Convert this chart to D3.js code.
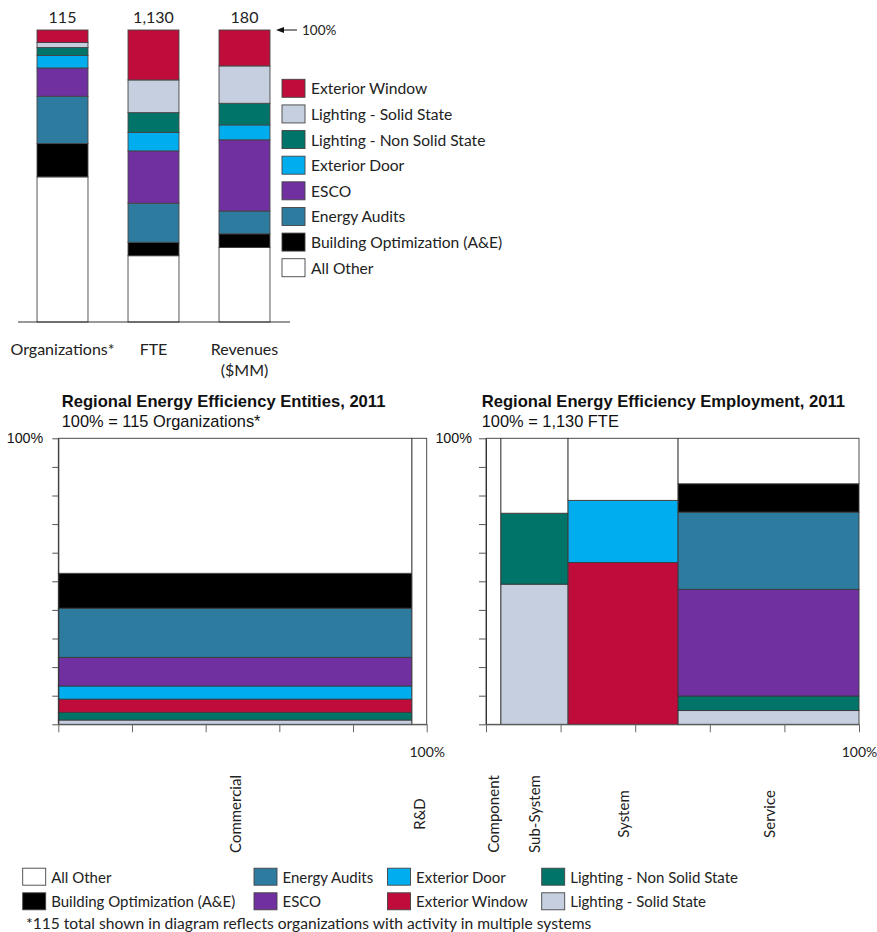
<!DOCTYPE html>
<html>
<head>
<meta charset="utf-8">
<script src="https://cdn.jsdelivr.net/npm/d3@7"></script>
<style>
  html, body { margin: 0; padding: 0; background: #fff; }
  svg { display: block; }
  .cal { font-family: Lato, "Open Sans", sans-serif; fill: #222; }
  .ari { font-family: "Liberation Sans", Arial, sans-serif; fill: #111; }
</style>
</head>
<body>
<svg id="chart" width="877" height="932"></svg>
<script>
// ---- Segments (stack order, bottom to top, for the summary bars) ----
const segments = [
  "All Other",
  "Building Optimization (A&E)",
  "Energy Audits",
  "ESCO",
  "Exterior Door",
  "Lighting - Non Solid State",
  "Lighting - Solid State",
  "Exterior Window"
];
const segmentColors = ["#ffffff", "#000000", "#2e7ba0", "#7030a0", "#00aeef", "#007468", "#c5cfe0", "#c00c3b"];

// ---- Summary bars: share of each metric (%) per segment, in segment order ----
const metrics = ["Organizations*", "FTE", "Revenues ($MM)"];
const metricTotals = ["115", "1,130", "180"];
const orgShares = [49.7, 11.4, 16.2, 9.7, 4.3, 2.7, 1.7, 4.3];
const fteShares = [22.7, 4.6, 13.4, 17.9, 6.3, 6.8, 11.2, 17.1];
const revShares = [25.5, 4.7, 7.8, 24.4, 5.1, 7.4, 12.8, 12.3];

// ---- Mosaic charts: segments stacked bottom to top ----
const mosaicOrder = [
  "Lighting - Solid State",
  "Lighting - Non Solid State",
  "Exterior Window",
  "Exterior Door",
  "ESCO",
  "Energy Audits",
  "Building Optimization (A&E)",
  "All Other"
];

// Entities (organizations), column widths in % of total
const entityColumns = ["Commercial", "R&D"];
const entityWidths = [96, 4];
const commercialShares = [1.5, 2.7, 4.6, 4.6, 10.0, 17.2, 12.2, 47.2];
const rdShares = [0, 0, 0, 0, 0, 0, 0, 100];

// Employment (FTE), column widths in % of total
const employmentColumns = ["Component", "Sub-System", "System", "Service"];
const employmentWidths = [4, 18, 29.5, 48.5];
const componentShares = [0, 0, 0, 0, 0, 0, 0, 100];
const subSystemShares = [49.0, 24.8, 0, 0, 0, 0, 0, 26.2];
const systemShares = [0, 0, 56.6, 21.7, 0, 0, 0, 21.7];
const serviceShares = [4.8, 5.1, 0, 0, 37.3, 27.0, 9.9, 15.9];

const color = d3.scaleOrdinal().domain(segments).range(segmentColors);

const svg = d3.select("#chart");

// ================= Summary stacked bars =================
const topRows = metrics.map((m, i) => {
  const vals = [orgShares, fteShares, revShares][i];
  const row = { metric: m, total: metricTotals[i] };
  segments.forEach((s, j) => row[s] = vals[j]);
  return row;
});

const xTop = d3.scaleBand().domain(metrics).range([17, 290]).paddingInner(0.44).paddingOuter(0.22);
const yTop = d3.scaleLinear().domain([0, 100]).range([322, 30]);
const stacked = d3.stack().keys(segments)(topRows);

const gTop = svg.append("g");
gTop.selectAll("g.layer").data(stacked).join("g")
  .attr("class", "layer")
  .attr("fill", d => color(d.key))
  .selectAll("rect").data(d => d).join("rect")
  .attr("x", d => xTop(d.data.metric))
  .attr("width", xTop.bandwidth())
  .attr("y", d => yTop(d[1]))
  .attr("height", d => yTop(d[0]) - yTop(d[1]))
  .attr("stroke", "#444")
  .attr("stroke-width", 0.9);

// baseline
gTop.append("line")
  .attr("x1", 18).attr("x2", 290)
  .attr("y1", yTop(0)).attr("y2", yTop(0))
  .attr("stroke", "#333").attr("stroke-width", 1.2);

// totals above bars
gTop.selectAll("text.total").data(topRows).join("text")
  .attr("class", "total cal")
  .attr("x", d => xTop(d.metric) + xTop.bandwidth() / 2)
  .attr("y", yTop(100) - 7)
  .attr("text-anchor", "middle")
  .attr("font-size", 16)
  .text(d => d.total);

// category labels
gTop.selectAll("text.cat").data(metrics).join("text")
  .attr("class", "cat cal")
  .attr("x", d => xTop(d) + xTop.bandwidth() / 2)
  .attr("y", 355)
  .attr("text-anchor", "middle")
  .attr("font-size", 16)
  .each(function (d) {
    const parts = d === "Revenues ($MM)" ? ["Revenues", "($MM)"] : [d];
    d3.select(this).selectAll("tspan").data(parts).join("tspan")
      .attr("x", xTop(d) + xTop.bandwidth() / 2)
      .attr("dy", (p, i) => i === 0 ? 0 : 21)
      .text(p => p);
  });

// 100% marker arrow
const arrowY = yTop(100);
gTop.append("line")
  .attr("x1", 282).attr("x2", 297)
  .attr("y1", arrowY).attr("y2", arrowY)
  .attr("stroke", "#111").attr("stroke-width", 1);
gTop.append("path")
  .attr("d", `M276,${arrowY} L284,${arrowY - 3} L284,${arrowY + 3} Z`)
  .attr("fill", "#111");
gTop.append("text")
  .attr("class", "cal")
  .attr("x", 302).attr("y", arrowY)
  .attr("dominant-baseline", "central")
  .attr("font-size", 13.5)
  .text("100%");

// legend beside the bars (top to bottom = reverse stack order)
const topLegend = segments.slice().reverse();
const gLeg = svg.append("g");
const legRow = gLeg.selectAll("g").data(topLegend).join("g")
  .attr("transform", (d, i) => `translate(282, ${88.3 + i * 25.63})`);
legRow.append("rect")
  .attr("x", 0).attr("y", -9).attr("width", 23).attr("height", 18)
  .attr("fill", d => color(d)).attr("stroke", "#444").attr("stroke-width", 0.9);
legRow.append("text")
  .attr("class", "cal")
  .attr("x", 29).attr("y", 0)
  .attr("dominant-baseline", "central")
  .attr("font-size", 15.6)
  .text(d => d);

// ================= Mosaic charts =================
function mosaic(opts) {
  const { x0, x1, title, subtitle, columns, widths, shares, labelY, yTickSize, yTickPad } = opts;
  const g = svg.append("g");
  const x = d3.scaleLinear().domain([0, 100]).range([x0, x1]);
  const y = d3.scaleLinear().domain([0, 100]).range([724.3, 438.3]);

  const cells = [];
  let acc = 0;
  columns.forEach((c, i) => {
    const left = acc, right = acc + widths[i];
    acc = right;
    let base = 0;
    mosaicOrder.forEach((s, j) => {
      const v = shares[i][j];
      if (v > 0) cells.push({ col: c, seg: s, left, right, lo: base, hi: base + v });
      base += v;
    });
  });

  g.selectAll("rect").data(cells).join("rect")
    .attr("x", d => x(d.left))
    .attr("width", d => x(d.right) - x(d.left))
    .attr("y", d => y(d.hi))
    .attr("height", d => y(d.lo) - y(d.hi))
    .attr("fill", d => color(d.seg))
    .attr("stroke", "#3a3a3a")
    .attr("stroke-width", 0.9);

  // axes
  const yAxis = d3.axisLeft(y).tickValues(d3.range(0, 101, 10))
    .tickSize(yTickSize).tickSizeOuter(0).tickPadding(yTickPad)
    .tickFormat(d => d === 100 ? "100%" : "");
  const ya = g.append("g").attr("transform", `translate(${x0},0)`).call(yAxis);
  ya.select(".domain").attr("stroke", "#333");
  ya.selectAll(".tick line").attr("stroke", "#555");
  ya.selectAll(".tick text").attr("class", "ari").attr("font-size", 14.3).attr("fill", "#333")
    .attr("font-family", "'Liberation Sans', Arial, sans-serif");

  const xAxis = d3.axisBottom(x).tickValues(d3.range(0, 101, 20))
    .tickSize(8).tickSizeOuter(0).tickPadding(15)
    .tickFormat(d => d === 100 ? "100%" : "");
  const xa = g.append("g").attr("transform", `translate(0,${y(0)})`).call(xAxis);
  xa.select(".domain").attr("stroke", "#555");
  xa.selectAll(".tick line").attr("stroke", "#666");
  xa.selectAll(".tick text").attr("font-size", 14).attr("fill", "#222")
    .attr("font-family", "Lato, 'Open Sans', sans-serif");

  // column labels, rotated
  let a2 = 0;
  const colMid = columns.map((c, i) => { const m = a2 + widths[i] / 2; a2 += widths[i]; return { c, m }; });
  g.selectAll("text.col").data(colMid).join("text")
    .attr("class", "col cal")
    .attr("transform", d => `translate(${x(d.m)},${labelY}) rotate(-90)`)
    .attr("text-anchor", "middle")
    .attr("dominant-baseline", "central")
    .attr("font-size", 15)
    .text(d => d.c);

  // titles
  g.append("text").attr("class", "ari")
    .attr("x", opts.titleX).attr("y", 406.5)
    .attr("font-size", 16.6).attr("font-weight", "bold")
    .text(title);
  g.append("text").attr("class", "ari")
    .attr("x", opts.titleX).attr("y", 427)
    .attr("font-size", 16.4)
    .text(subtitle);
}

mosaic({
  x0: 58.3, x1: 426.7, titleX: 61.7,
  title: "Regional Energy Efficiency Entities, 2011",
  subtitle: "100% = 115 Organizations*",
  columns: entityColumns, widths: entityWidths,
  shares: [commercialShares, rdShares],
  labelY: 814, yTickSize: 6, yTickPad: 9
});

mosaic({
  x0: 486, x1: 859, titleX: 481.7,
  title: "Regional Energy Efficiency Employment, 2011",
  subtitle: "100% = 1,130 FTE",
  columns: employmentColumns, widths: employmentWidths,
  shares: [componentShares, subSystemShares, systemShares, serviceShares],
  labelY: 814, yTickSize: 7, yTickPad: 7
});

// ================= Bottom legend =================
const legendCols = [
  { x: 22.7, items: ["All Other", "Building Optimization (A&E)"] },
  { x: 254, items: ["Energy Audits", "ESCO"] },
  { x: 387.5, items: ["Exterior Door", "Exterior Window"] },
  { x: 541.7, items: ["Lighting - Non Solid State", "Lighting - Solid State"] }
];
const rowYs = [876.7, 901.3];
const gB = svg.append("g");
legendCols.forEach(col => {
  col.items.forEach((name, r) => {
    const gi = gB.append("g").attr("transform", `translate(${col.x},${rowYs[r]})`);
    gi.append("rect").attr("x", 0).attr("y", -8.5).attr("width", 23).attr("height", 17)
      .attr("fill", color(name)).attr("stroke", "#444").attr("stroke-width", 0.9);
    gi.append("text").attr("class", "cal")
      .attr("x", 28.5).attr("y", 0)
      .attr("dominant-baseline", "central")
      .attr("font-size", 15)
      .text(name);
  });
});
gB.append("text").attr("class", "cal")
  .attr("x", 26).attr("y", 923)
  .attr("dominant-baseline", "central")
  .attr("font-size", 15.6)
  .text("*115 total shown in diagram reflects organizations with activity in multiple systems");
</script>
</body>
</html>
